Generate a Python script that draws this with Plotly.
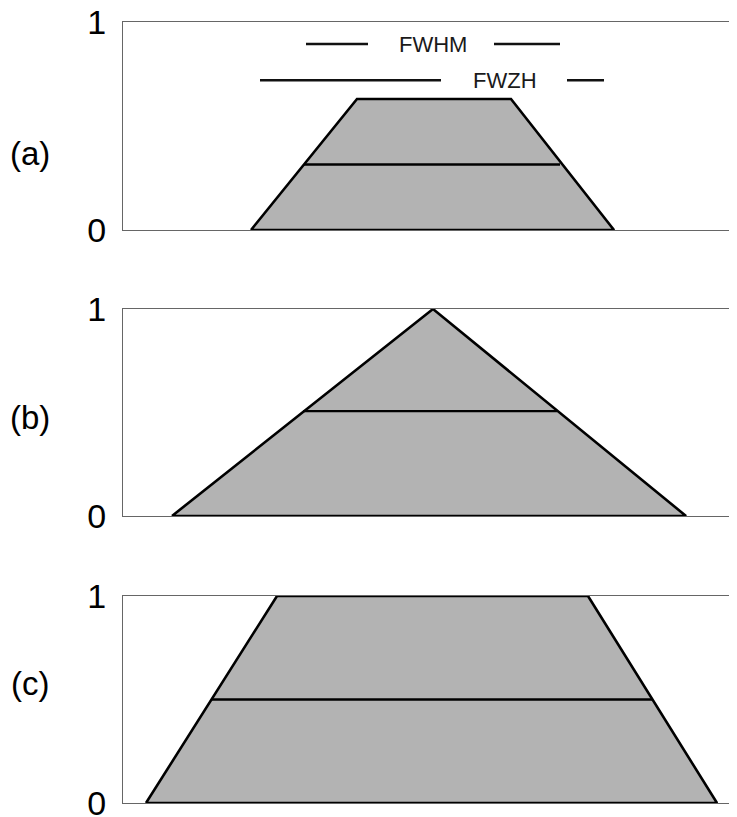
import plotly.graph_objects as go
from plotly.subplots import make_subplots

# x in arbitrary width units (0 = peak centre), y = normalised height
panel_labels = ["(a)", "(b)", "(c)"]

shape_a_x = [-1.81, -0.75, 0.79, 1.82]
shape_a_y = [0, 0.63, 0.63, 0]
shape_b_x = [-2.60, 0.01, 2.54]
shape_b_y = [0, 1, 0]
shape_c_x = [-2.86, -1.55, 1.56, 2.85]
shape_c_y = [0, 1, 1, 0]

half_a_x = [-1.28, 1.28]
half_a_y = 0.315
half_b_x = [-1.29, 1.25]
half_b_y = 0.507
half_c_x = [-2.21, 2.21]
half_c_y = 0.5

# FWHM / FWZH legend-style bars in panel (a)
fwhm_left = [-1.26, -0.64]
fwhm_right = [0.62, 1.28]
fwhm_y = 0.894
fwhm_text_x = 0.01
fwzh_left = [-1.72, 0.09]
fwzh_right = [1.35, 1.72]
fwzh_y = 0.72
fwzh_text_x = 0.73

x_range = [-3.09, 3.05]
y_ticks = [0, 1]
y_ticklabels = ["0", "1"]

shapes = [(shape_a_x, shape_a_y), (shape_b_x, shape_b_y), (shape_c_x, shape_c_y)]
halves = [(half_a_x, half_a_y), (half_b_x, half_b_y), (half_c_x, half_c_y)]

fig = make_subplots(rows=3, cols=1)

for i, ((sx, sy), (hx, hy)) in enumerate(zip(shapes, halves)):
    r = i + 1
    fig.add_trace(go.Scatter(
        x=sx + [sx[0]], y=sy + [sy[0]],
        mode="lines", fill="toself", fillcolor="#b3b3b3",
        line=dict(color="black", width=2.6),
        cliponaxis=False, hoverinfo="skip"), row=r, col=1)
    fig.add_trace(go.Scatter(
        x=hx, y=[hy, hy], mode="lines",
        line=dict(color="black", width=2.3),
        cliponaxis=False, hoverinfo="skip"), row=r, col=1)

for seg, yy in [(fwhm_left, fwhm_y), (fwhm_right, fwhm_y), (fwzh_left, fwzh_y), (fwzh_right, fwzh_y)]:
    fig.add_trace(go.Scatter(
        x=seg, y=[yy, yy], mode="lines",
        line=dict(color="#111", width=2.6), hoverinfo="skip"), row=1, col=1)

fig.add_annotation(x=fwhm_text_x, y=fwhm_y, text="FWHM", showarrow=False,
                   xref="x", yref="y", font=dict(size=22, color="#1a1a1a"))
fig.add_annotation(x=fwzh_text_x, y=fwzh_y, text="FWZH", showarrow=False,
                   xref="x", yref="y", font=dict(size=22, color="#1a1a1a"))

# page has an 8px body margin, so the figure is 729x809 placed at (8, 8)
domains = [[0.7256, 0.9827], [0.3721, 0.6279], [0.0173, 0.2732]]
label_y = [0.8455, 0.4944, 0.1397]
for i, dom in enumerate(domains):
    r = i + 1
    fig.update_xaxes(range=x_range, showgrid=False, zeroline=False,
                     showticklabels=False, ticks="", automargin=False,
                     showline=True, linecolor="#666", linewidth=1, mirror=True,
                     row=r, col=1)
    fig.update_yaxes(range=[0, 1], domain=dom, showgrid=False, zeroline=False,
                     tickvals=y_ticks, ticktext=y_ticklabels, ticks="",
                     ticklabelstandoff=9, automargin=False,
                     ticklabeloverflow="allow",
                     tickfont=dict(size=34, color="black"),
                     showline=True, linecolor="#666", linewidth=1, mirror=False,
                     row=r, col=1)
    fig.add_annotation(x=-0.1515, y=label_y[i], xref="paper", yref="paper",
                       text=panel_labels[i], showarrow=False, xanchor="center",
                       font=dict(size=33, color="black"))

fig.update_layout(
    width=729, height=809,
    margin=dict(l=115, r=0, t=0, b=0),
    paper_bgcolor="white", plot_bgcolor="white",
    showlegend=False,
    font=dict(family="Liberation Sans, Arial, sans-serif"),
)

fig.write_html("out.html")
